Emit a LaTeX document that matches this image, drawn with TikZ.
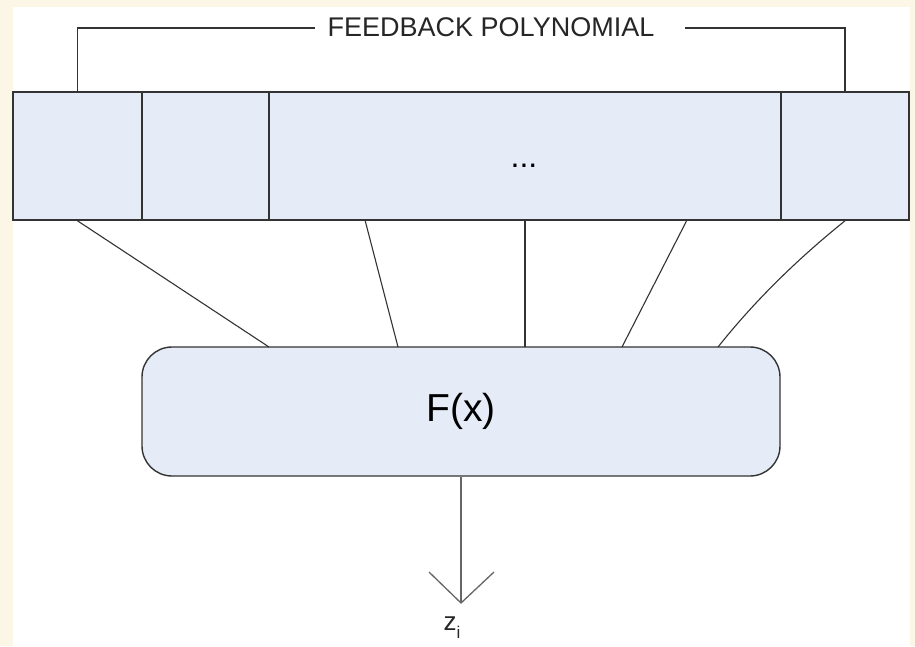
\documentclass[tikz,border=0pt]{standalone}
\usepackage{fontspec}
\setmainfont{Liberation Sans}
\definecolor{paper}{HTML}{FBF6E5}
\definecolor{cellfill}{HTML}{E5ECF7}
\definecolor{edge}{HTML}{333333}
\definecolor{arrowgrey}{HTML}{666666}
\tikzset{
  regcell/.style={draw=edge, line width=1.6pt, fill=cellfill, rectangle,
    minimum height=128pt, inner sep=0pt},
  funcbox/.style={draw=edge, line width=1.4pt, fill=cellfill, rectangle,
    rounded corners=30pt, minimum width=638pt, minimum height=129pt, inner sep=0pt},
  tap/.style={draw=edge, line width=1.1pt},
  bracket/.style={draw=edge, line width=1.3pt},
  outarrow/.style={draw=arrowgrey, line width=1.6pt},
  labeltext/.style={inner sep=0pt, font=\fontsize{27}{30}\selectfont, text=black!85}
}
\begin{document}
\begin{tikzpicture}[x=1pt, y=-1pt]
  \useasboundingbox (0,0) rectangle (915,646);
  % page background and white canvas
  \fill[paper] (0,0) rectangle (915,646);
  \fill[white] (13,7) rectangle (910,646);

  % shift register cells
  \node[regcell, minimum width=129pt] (c1) at (77.5,156) {};
  \node[regcell, minimum width=127pt] (c2) at (205.5,156) {};
  \node[regcell, minimum width=512pt] (c3) at (525,156) {};
  \node[regcell, minimum width=128pt] (c4) at (845,156) {};
  \node[inner sep=0pt, anchor=base, font=\fontsize{32}{34}\selectfont] (dots)
    at (524,167) {...};

  % feedback polynomial bracket
  \node[labeltext] (fb) at (491,27) {FEEDBACK POLYNOMIAL};
  \coordinate (fbL) at (315,28);
  \coordinate (fbR) at (685,28);
  \draw[bracket] (c1.north) |- (fbL);
  \draw[bracket] (fbR) -| (c4.north);

  % filter function
  \node[funcbox] (F) at (461,411.5) {\fontsize{39}{44}\selectfont F(x)};

  % taps from the register into the filter
  \coordinate (t2) at (365,220);
  \coordinate (t3) at (525,220);
  \coordinate (t4) at (687,220);
  \coordinate (f1) at (269,347);
  \coordinate (f2) at (398,347);
  \coordinate (f3) at (525,347);
  \coordinate (f4) at (622,347);
  \coordinate (f5) at (718,347);
  \draw[tap] (c1.south) -- (f1);
  \draw[tap] (t2) -- (f2);
  \draw[tap] (t3) -- (f3);
  \draw[tap] (t4) -- (f4);
  \draw[tap] (c4.south) .. controls (795,261) and (753,303) .. (f5);

  % keystream output
  \coordinate (tip) at (461,603);
  \coordinate (armL) at (429,572);
  \coordinate (armR) at (494,572);
  \draw[outarrow] (F.south) -- (tip);
  \draw[arrowgrey, line width=1.3pt] (armL) -- (tip) -- (armR);
  \node[inner sep=0pt, text=black!85] (z) at (452,628)
    {\fontsize{26}{28}\selectfont z\raisebox{-0.3em}{\fontsize{17}{20}\selectfont i}};
\end{tikzpicture}
\end{document}
